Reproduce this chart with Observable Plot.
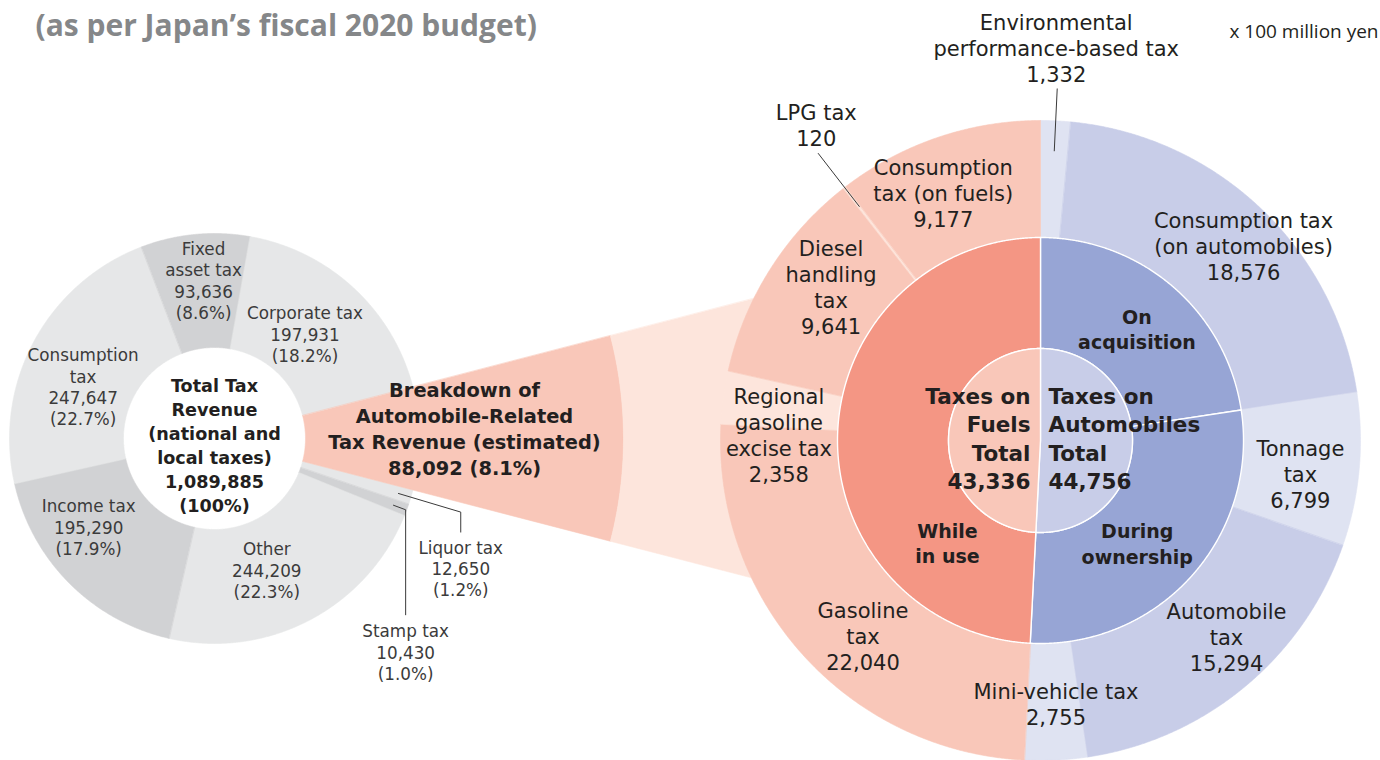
<!DOCTYPE html>
<html>
<head>
<meta charset="utf-8">
<script src="https://cdn.jsdelivr.net/npm/d3@7"></script>
<script src="https://cdn.jsdelivr.net/npm/@observablehq/plot@0.6"></script>
<style>
  html, body { margin: 0; padding: 0; background: #ffffff; }
  #chart { width: 1380px; height: 760px; overflow: hidden; }
</style>
</head>
<body>
<div id="chart"></div>
<script>
// ---------------- DATA ----------------
const titleText = "(as per Japan’s fiscal 2020 budget)";
const unitText = "x 100 million yen";

// Left pie: total tax revenue (national and local), x 100 million yen
const pieNames  = ["Automobile-related taxes", "Liquor tax", "Stamp tax", "Other", "Income tax", "Consumption\ntax", "Fixed\nasset tax", "Corporate tax"];
const pieValues = [88092, 12650, 10430, 244209, 195290, 247647, 93636, 197931];
const pieShares = ["8.1%", "1.2%", "1.0%", "22.3%", "17.9%", "22.7%", "8.6%", "18.2%"];
const totalRevenue = 1089885;
const totalShare = "100%";
const centerTitle = "Total Tax\nRevenue\n(national and\nlocal taxes)";
const wedgeTitle = "Breakdown of\nAutomobile-Related\nTax Revenue (estimated)";

// Right sunburst: automobile-related taxes
const groupNames  = ["Taxes on\nAutomobiles\nTotal", "Taxes on\nFuels\nTotal"];
const groupValues = [44756, 43336];
const stageNames  = ["On\nacquisition", "During\nownership", "While\nin use"];
const taxNames = [
  "Environmental\nperformance-based tax",
  "Consumption tax\n(on automobiles)",
  "Tonnage\ntax",
  "Automobile\ntax",
  "Mini-vehicle tax",
  "Gasoline\ntax",
  "Regional\ngasoline\nexcise tax",
  "Diesel\nhandling\ntax",
  "LPG tax",
  "Consumption\ntax (on fuels)"
];
const taxValues = [1332, 18576, 6799, 15294, 2755, 22040, 2358, 9641, 120, 9177];
const taxStage  = [0, 0, 1, 1, 1, 2, 2, 2, 2, 2];

// ---------------- STYLE / LAYOUT ----------------
const fmt = d3.format(",");
const DEG = Math.PI / 180;
const FONT = "'DejaVu Sans', 'Open Sans', sans-serif";
const TITLE_FONT = "'Open Sans', 'DejaVu Sans', sans-serif";
const INK = "#231f20";
const PIE_INK = "#3b3b3b";

const pieTone = ["auto", "light", "dark", "light", "dark", "light", "dark", "light"];
const pieColor = {light: "#e6e7e8", dark: "#d1d2d4"};
const wedgeInner = "#f9c7b9", wedgeOuter = "#fde5dc";
const taxTone = ["pale", "mid", "pale", "mid", "pale", "pink", "blush", "pink", "blush", "pink"];
const toneColor = {pale: "#dfe3f2", mid: "#c8cde8", pink: "#f9c7b9", blush: "#fde5dc"};
const stageColor = ["#97a5d5", "#97a5d5", "#f49684"];
const groupColor = ["#c8cde8", "#f9c7b9"];

const P = {x: 214, y: 438, hole: 91, r: 205, wedgeMid: 409, wedgeOut: 640, labelR: 148};
const S = {x: 1040, y: 440, rIn: 92, rMid: 203, rOut: 320, outerLabelR: 262, stageLabelR: 148};

// label nudges (pixels) from polar anchors
const pieNudge = {3: [-16, 0], 4: [-21, -16], 5: [-1, 18], 6: [3, -11], 7: [-10, 4]};
const pieLeader = {1: {r0: 192, r1: 257, drop: 20, gap: 36}, 2: {r0: 191, r1: 204, drop: 105, gap: 37}};
const taxNudge = {1: [23, -4], 2: [-1, 9], 3: [19, -6], 4: [3, 1], 5: [17, 20], 6: [-2, 30], 7: [12, -14], 9: [-13, 0]};
const taxLeader = {0: {r0: 290, r1: 352, dx: -1, dy: -41}, 8: {r0: 296, r1: 363, dx: -2, dy: -29}};
const stageNudge = [[0, 0], [-13, 3], [17, 3]];
const stageLabelAngle = [null, null, 228];

// ---------------- GEOMETRY ----------------
function polar(c, r, a) { return [c.x + r * Math.sin(a * DEG), c.y - r * Math.cos(a * DEG)]; }
function sector(id, c, r0, r1, a0, a1, fill) {
  const n = Math.max(2, Math.ceil(Math.abs(a1 - a0) / 0.25));
  const rows = [];
  for (let i = 0; i <= n; i++) { const [x, y] = polar(c, r1, a0 + (a1 - a0) * i / n); rows.push({id, x, y, fill}); }
  if (r0 > 0) for (let i = n; i >= 0; i--) { const [x, y] = polar(c, r0, a0 + (a1 - a0) * i / n); rows.push({id, x, y, fill}); }
  else rows.push({id, x: c.x, y: c.y, fill});
  return rows;
}
function arcs(values, start) {
  const tot = d3.sum(values);
  let acc = start;
  return values.map((v, i) => { const a0 = acc; acc += v / tot * 360; return {i, a0, a1: acc, mid: (a0 + acc) / 2}; });
}

// Left pie: automobile slice centred on 3 o'clock
const pieTot = d3.sum(pieValues);
const pieArcs = arcs(pieValues, 90 - pieValues[0] / pieTot * 180);
const pieRows = pieArcs.filter(d => d.i > 0).flatMap(d => sector("p" + d.i, P, P.hole, P.r, d.a0, d.a1, pieColor[pieTone[d.i]]));
const autoArc = pieArcs[0];
const wedgeRows = [
  ...sector("w1", P, P.hole, P.wedgeMid, autoArc.a0, autoArc.a1, wedgeInner),
  ...sector("w2", P, P.wedgeMid, P.wedgeOut, autoArc.a0, autoArc.a1, wedgeOuter)
];

// Sunburst
const taxArcs = arcs(taxValues, 0);
const stageValues = stageNames.map((_, s) => d3.sum(taxValues.filter((v, i) => taxStage[i] === s)));
const stageArcs = arcs(stageValues, 0);
const groupArcs = arcs(groupValues, 0);
const outerRows = taxArcs.flatMap(d => sector("t" + d.i, S, S.rMid, S.rOut, d.a0, d.a1, toneColor[taxTone[d.i]]));
const midRows = stageArcs.flatMap(d => sector("s" + d.i, S, S.rIn, S.rMid, d.a0, d.a1, stageColor[d.i]));
const innerRows = groupArcs.flatMap(d => sector("g" + d.i, S, 0, S.rIn, d.a0, d.a1, groupColor[d.i]));

// Leaders + labels
const leaderRows = [];
const pieLabelRows = [];
pieArcs.forEach(d => {
  if (d.i === 0) return;
  const text = `${pieNames[d.i]}\n${fmt(pieValues[d.i])}\n(${pieShares[d.i]})`;
  if (pieLeader[d.i]) {
    const L = pieLeader[d.i];
    const [x0, y0] = polar(P, L.r0, d.mid), [x1, y1] = polar(P, L.r1, d.mid);
    leaderRows.push({id: "pl" + d.i, x: x0, y: y0}, {id: "pl" + d.i, x: x1, y: y1}, {id: "pl" + d.i, x: x1, y: y1 + L.drop});
    pieLabelRows.push({x: x1, y: y1 + L.drop + L.gap, text});
  } else {
    const [x, y] = polar(P, P.labelR, d.mid);
    const n = pieNudge[d.i] || [0, 0];
    pieLabelRows.push({x: x + n[0], y: y + n[1], text});
  }
});
const [wx, wy] = polar(P, 250, autoArc.mid);
const wedgeLabel = [{x: wx, y: wy - 11, text: `${wedgeTitle}\n${fmt(pieValues[0])} (${pieShares[0]})`}];
const centerLabel = [{x: P.x, y: P.y + 6, text: `${centerTitle}\n${fmt(totalRevenue)}\n(${totalShare})`}];

const taxLabelRows = [];
taxArcs.forEach(d => {
  const text = `${taxNames[d.i]}\n${fmt(taxValues[d.i])}`;
  if (taxLeader[d.i]) {
    const L = taxLeader[d.i];
    const [x0, y0] = polar(S, L.r0, d.mid), [x1, y1] = polar(S, L.r1, d.mid);
    leaderRows.push({id: "tl" + d.i, x: x0, y: y0}, {id: "tl" + d.i, x: x1, y: y1});
    taxLabelRows.push({x: x1 + L.dx, y: y1 + L.dy, text});
  } else {
    const [x, y] = polar(S, S.outerLabelR, d.mid);
    const n = taxNudge[d.i] || [0, 0];
    taxLabelRows.push({x: x + n[0], y: y + n[1], text});
  }
});
const stageLabelRows = stageArcs.map(d => {
  const [x, y] = polar(S, S.stageLabelR, stageLabelAngle[d.i] ?? d.mid);
  return {x: x + stageNudge[d.i][0], y: y + stageNudge[d.i][1], text: stageNames[d.i]};
});
const groupLabelAuto = [{x: S.x + 8, y: S.y - 3, text: `${groupNames[0]}\n${fmt(groupValues[0])}`}];
const groupLabelFuel = [{x: S.x - 10, y: S.y - 3, text: `${groupNames[1]}\n${fmt(groupValues[1])}`}];

const shape = (rows, extra = {}) => Plot.line(rows, {x: "x", y: "y", z: "id", fill: "fill", stroke: "fill", strokeWidth: 0.6, curve: "linear-closed", ...extra});

const chart = Plot.plot({
  width: 1380,
  height: 760,
  margin: 0,
  style: {fontFamily: FONT, background: "#ffffff", overflow: "hidden"},
  x: {domain: [0, 1380], range: [0, 1380], axis: null},
  y: {domain: [0, 760], range: [0, 760], axis: null},
  color: {type: "identity"},
  marks: [
    shape(pieRows),
    shape(wedgeRows),
    shape(outerRows),
    shape(midRows, {stroke: "#ffffff", strokeWidth: 1.4}),
    shape(innerRows, {stroke: "#ffffff", strokeWidth: 1.4}),
    Plot.line(leaderRows, {x: "x", y: "y", z: "id", stroke: "#3a3a3a", strokeWidth: 1}),
    Plot.text(pieLabelRows, {x: "x", y: "y", text: "text", fontSize: 16.8, lineHeight: 1.27, fill: PIE_INK, fontFamily: FONT}),
    Plot.text(centerLabel, {x: "x", y: "y", text: "text", fontSize: 17.6, fontWeight: "bold", lineHeight: 1.37, fill: INK, fontFamily: FONT}),
    Plot.text(wedgeLabel, {x: "x", y: "y", text: "text", fontSize: 19.4, fontWeight: "bold", lineHeight: 1.34, fill: INK, fontFamily: FONT}),
    Plot.text(taxLabelRows, {x: "x", y: "y", text: "text", fontSize: 21, lineHeight: 1.24, fill: INK, fontFamily: FONT}),
    Plot.text(stageLabelRows, {x: "x", y: "y", text: "text", fontSize: 19, fontWeight: "bold", lineHeight: 1.34, fill: INK, fontFamily: FONT}),
    Plot.text(groupLabelAuto, {x: "x", y: "y", text: "text", fontSize: 21.5, fontWeight: "bold", lineHeight: 1.32, textAnchor: "start", fill: INK, fontFamily: FONT}),
    Plot.text(groupLabelFuel, {x: "x", y: "y", text: "text", fontSize: 21.5, fontWeight: "bold", lineHeight: 1.32, textAnchor: "end", fill: INK, fontFamily: FONT}),
    Plot.text([unitText], {x: 1378, y: 31, text: d => d, fontSize: 19, textAnchor: "end", fill: INK, fontFamily: TITLE_FONT}),
    Plot.text([titleText], {x: 35, y: 26, text: d => d, fontSize: 30, fontWeight: "bold", textAnchor: "start", fill: "#858789", fontFamily: TITLE_FONT})
  ]
});
document.getElementById("chart").appendChild(chart);
</script>
</body>
</html>
